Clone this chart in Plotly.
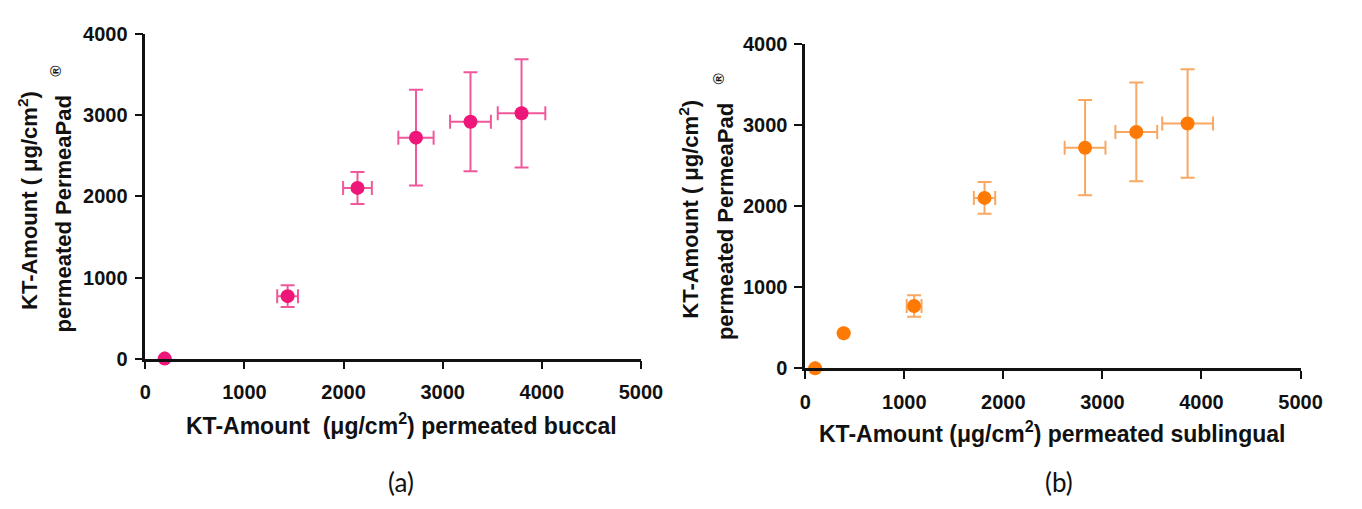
import plotly.graph_objects as go

# ---- data ----
buccal_x = [195, 1435, 2140, 2730, 3280, 3795]
buccal_y = [0, 770, 2105, 2725, 2920, 3025]
buccal_xerr = [0, 105, 145, 178, 206, 240]
buccal_yerr = [0, 135, 197, 590, 610, 668]

subl_x = [100, 388, 1099, 1810, 2825, 3342, 3860]
subl_y = [0, 433, 770, 2105, 2725, 2920, 3025]
subl_xerr = [0, 0, 75, 108, 206, 211, 256]
subl_yerr = [0, 0, 133, 197, 588, 610, 670]

x_ticks = [0, 1000, 2000, 3000, 4000, 5000]
y_ticks = [0, 1000, 2000, 3000, 4000]

PINK = "#EE1679"
PINK_ERR = "#F0589A"
ORANGE = "#FF7A05"
ORANGE_ERR = "#F8A862"

W, H = 1362, 509
FONT = "Liberation Sans, Arial, sans-serif"

fig = go.Figure()

fig.add_trace(go.Scatter(
    x=buccal_x, y=buccal_y, mode="markers",
    marker=dict(size=14, color=PINK, symbol="circle"),
    error_x=dict(type="data", array=buccal_xerr, color=PINK_ERR, thickness=2, width=7),
    error_y=dict(type="data", array=buccal_yerr, color=PINK_ERR, thickness=2, width=7),
    xaxis="x", yaxis="y", cliponaxis=False, showlegend=False))

fig.add_trace(go.Scatter(
    x=subl_x, y=subl_y, mode="markers",
    marker=dict(size=14, color=ORANGE, symbol="circle"),
    error_x=dict(type="data", array=subl_xerr, color=ORANGE_ERR, thickness=2, width=7),
    error_y=dict(type="data", array=subl_yerr, color=ORANGE_ERR, thickness=2, width=7),
    xaxis="x2", yaxis="y2", cliponaxis=False, showlegend=False))

# pixel geometry
L_x0, L_x1, L_y0, L_y1 = 142.3, 648.3, 363.3, 24.3
R_x0, R_x1, R_y0, R_y1 = 816.0, 1321.7, 373.5, 35.0

def px(v):
    return v / W

def py(v):
    return (H - v) / H

axis_common = dict(
    showgrid=False, zeroline=False, showline=True, linecolor="#111111", linewidth=2.5,
    ticks="outside", ticklen=8, tickwidth=2, tickcolor="#111111",
    tickfont=dict(family=FONT, size=20, color="#111111", weight="bold"),
    mirror=False, fixedrange=True,
)

fig.update_layout(
    width=W, height=H,
    margin=dict(l=0, r=0, t=0, b=0),
    paper_bgcolor="white", plot_bgcolor="white",
    xaxis=dict(domain=[px(L_x0), px(L_x1)], anchor="y", range=[0, 5000],
               tickvals=x_ticks, ticklabelstandoff=6, **axis_common),
    yaxis=dict(domain=[py(L_y0), py(L_y1)], anchor="x", range=[0, 4000],
               tickvals=y_ticks, ticklabelstandoff=3, **axis_common),
    xaxis2=dict(domain=[px(R_x0), px(R_x1)], anchor="y2", range=[0, 5000],
                tickvals=x_ticks, ticklabelstandoff=6, **axis_common),
    yaxis2=dict(domain=[py(R_y0), py(R_y1)], anchor="x2", range=[0, 4000],
                tickvals=y_ticks, ticklabelstandoff=3, **axis_common),
)

xt_font = dict(family=FONT, size=23, color="#111111", weight="bold")
yt_font = dict(family=FONT, size=22, color="#111111", weight="bold")

def ann(text, x, y, angle=0, font=xt_font):
    fig.add_annotation(text=text, x=px(x), y=py(y), xref="paper", yref="paper",
                       showarrow=False, textangle=angle, font=font,
                       xanchor="center", yanchor="middle")

# x titles
ann("KT-Amount  (μg/cm<sup>2</sup>) permeated buccal", 404, 432)
ann("KT-Amount (μg/cm<sup>2</sup>) permeated sublingual", 1068, 440)

# y titles (two lines each)
ann("KT-Amount ( μg/cm<sup>2</sup>)", 23, 198, -90, yt_font)
ann("permeated PermeaPad   <sup>®</sup>", 56, 196, -90, yt_font)
ann("KT-Amount ( μg/cm<sup>2</sup>)", 697, 207, -90, yt_font)
ann("permeated PermeaPad   <sup>®</sup>", 733, 204, -90, yt_font)

# panel labels
lab_font = dict(family="Lato, Open Sans, sans-serif", size=26, color="#111111")
ann("(a)", 403, 492, 0, lab_font)
ann("(b)", 1075, 492, 0, lab_font)

fig.write_html("out.html")
